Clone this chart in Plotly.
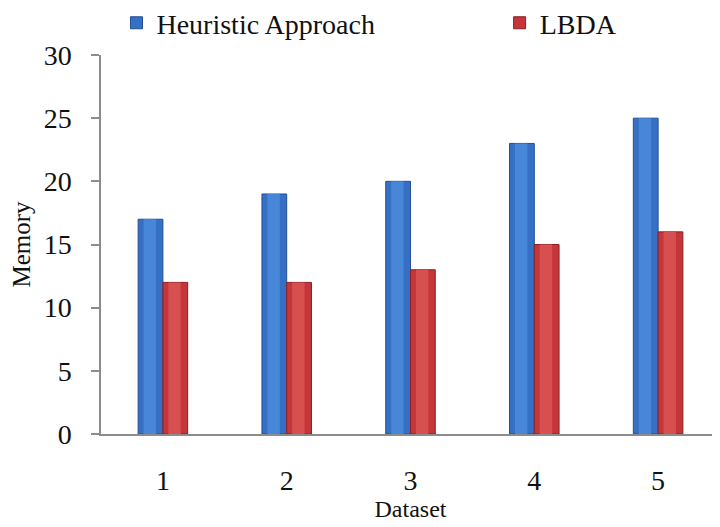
import plotly.graph_objects as go

datasets = ["1", "2", "3", "4", "5"]
heuristic = [17, 19, 20, 23, 25]
lbda = [12, 12, 13, 15, 16]
y_ticks = [0, 5, 10, 15, 20, 25, 30]

FONT = "Liberation Serif, Times New Roman, serif"
BW = 0.2

fig = go.Figure()
# main bars
fig.add_trace(go.Bar(x=datasets, y=heuristic, name="Heuristic Approach",
                     width=BW, offset=-BW, legend="legend",
                     marker=dict(color="#3570C4", line=dict(color="#234F96", width=1))))
fig.add_trace(go.Bar(x=datasets, y=lbda, name="LBDA",
                     width=BW, offset=0.0, legend="legend2",
                     marker=dict(color="#C4363A", line=dict(color="#8A1F22", width=1))))
# cylinder highlight stripes
fig.add_trace(go.Bar(x=datasets, y=heuristic, showlegend=False, hoverinfo="skip",
                     width=BW * 0.5, offset=-BW * 0.78,
                     marker=dict(color="#4886D8", line=dict(width=0))))
fig.add_trace(go.Bar(x=datasets, y=lbda, showlegend=False, hoverinfo="skip",
                     width=BW * 0.5, offset=BW * 0.22,
                     marker=dict(color="#D65050", line=dict(width=0))))

legend_common = dict(orientation="h", yref="container", y=0.971,
                     xanchor="left", yanchor="middle",
                     font=dict(size=28, family=FONT, color="#111111"),
                     itemwidth=30, bgcolor="rgba(0,0,0,0)")

fig.update_layout(
    width=712, height=519,
    barmode="overlay",
    paper_bgcolor="white", plot_bgcolor="white",
    margin=dict(l=93, r=0, t=47, b=93, autoexpand=False),
    font=dict(family=FONT, color="#111111", size=28),
    showlegend=True,
    legend=dict(x=0.025, **legend_common),
    legend2=dict(x=0.644, **legend_common),
    xaxis=dict(
        type="category", range=[-0.5, 4.5], automargin=False,
        showline=True, linecolor="#8C8C8C", linewidth=1.5,
        ticks="", showgrid=False, zeroline=False,
        tickfont=dict(size=28, family=FONT),
        ticklabelstandoff=21,
        title=dict(text="Dataset", font=dict(size=24, family=FONT), standoff=0),
    ),
    yaxis=dict(
        range=[0, 30], tickvals=y_ticks, automargin=False,
        showline=True, linecolor="#8C8C8C", linewidth=1.5,
        ticks="outside", ticklen=8, tickcolor="#8C8C8C", tickwidth=1.5,
        showgrid=False, zeroline=False,
        tickfont=dict(size=28, family=FONT),
        ticklabelstandoff=14,
        title=dict(text="Memory", font=dict(size=25, family=FONT), standoff=13),
    ),
)

fig.write_html("out.html")
